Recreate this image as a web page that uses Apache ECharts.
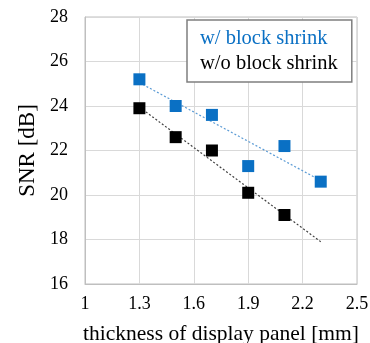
<!DOCTYPE html>
<html><head><meta charset="utf-8">
<script src="https://cdn.jsdelivr.net/npm/echarts@6/dist/echarts.min.js"></script>
<style>html,body{margin:0;padding:0;background:#fff}#c{width:370px;height:343px}</style>
</head><body><div id="c"></div>
<script>
const xTicks = [1, 1.3, 1.6, 1.9, 2.2, 2.5];
const yTicks = [16, 18, 20, 22, 24, 26, 28];
const withShrinkX = [1.3, 1.5, 1.7, 1.9, 2.1, 2.3];
const withShrinkY = [25.2, 24.0, 23.6, 21.3, 22.2, 20.6];
const withoutShrinkX = [1.3, 1.5, 1.7, 1.9, 2.1];
const withoutShrinkY = [23.9, 22.6, 22.0, 20.1, 19.1];
const withTrend = [[1.3, 25.05], [2.3, 20.65]];
const withoutTrend = [[1.3, 23.95], [2.3, 17.9]];
const names = ['w/ block shrink', 'w/o block shrink'];

const chart = echarts.init(document.getElementById('c'));
const font = 'Liberation Serif';
const blue = '#0a70c4';
chart.setOption({
  animation: false,
  grid: {left: 85, right: 13, top: 17, bottom: 59, show: true, borderColor: '#bfbfbf', borderWidth: 1,
    outerBoundsMode: 'none', containLabel: false},
  legend: {
    orient: 'vertical', left: 187, top: 20,
    icon: 'none', itemWidth: 0, itemGap: 4,
    padding: [8, 14, 8, 8],
    borderColor: '#7f7f7f', borderWidth: 1.5, backgroundColor: '#fff',
    textStyle: {fontFamily: font, fontSize: 20.5},
    data: [
      {name: names[0], textStyle: {color: blue}},
      {name: names[1], textStyle: {color: '#000'}}
    ]
  },
  xAxis: {
    type: 'value', min: 0.99999, max: 2.5, interval: 0.3,
    name: 'thickness of display panel [mm]', nameLocation: 'middle', nameGap: 39,
    nameTextStyle: {fontFamily: font, fontSize: 21.5, color: '#000'},
    axisLine: {lineStyle: {color: '#bfbfbf'}},
    axisTick: {show: false},
    axisLabel: {fontFamily: font, fontSize: 18, color: '#000', margin: 11,
      customValues: xTicks, formatter: v => String(Math.round(v*10)/10)},
    splitLine: {lineStyle: {color: '#d9d9d9'}}
  },
  yAxis: {
    type: 'value', min: 16, max: 28, interval: 2,
    name: 'SNR [dB]', nameLocation: 'middle', nameGap: 45, nameRotate: 90,
    nameTextStyle: {fontFamily: font, fontSize: 23, color: '#000'},
    axisLine: {show: true, lineStyle: {color: '#bfbfbf'}},
    axisTick: {show: false},
    axisLabel: {fontFamily: font, fontSize: 18, color: '#000', margin: 17},
    splitLine: {lineStyle: {color: '#d9d9d9'}}
  },
  series: [
    {type: 'line', data: withTrend, symbol: 'none', silent: true, z: 1,
      lineStyle: {color: '#5b9bd5', width: 1.2, type: [2, 2]}},
    {type: 'line', data: withoutTrend, symbol: 'none', silent: true, z: 1,
      lineStyle: {color: '#404040', width: 1.2, type: [2, 2]}},
    {name: names[0], type: 'scatter', symbol: 'rect', symbolSize: 12, z: 3,
      itemStyle: {color: blue, opacity: 1},
      data: withShrinkX.map((x, i) => [x, withShrinkY[i]])},
    {name: names[1], type: 'scatter', symbol: 'rect', symbolSize: 12, z: 3,
      itemStyle: {color: '#000', opacity: 1},
      data: withoutShrinkX.map((x, i) => [x, withoutShrinkY[i]])}
  ]
});
</script></body></html>
